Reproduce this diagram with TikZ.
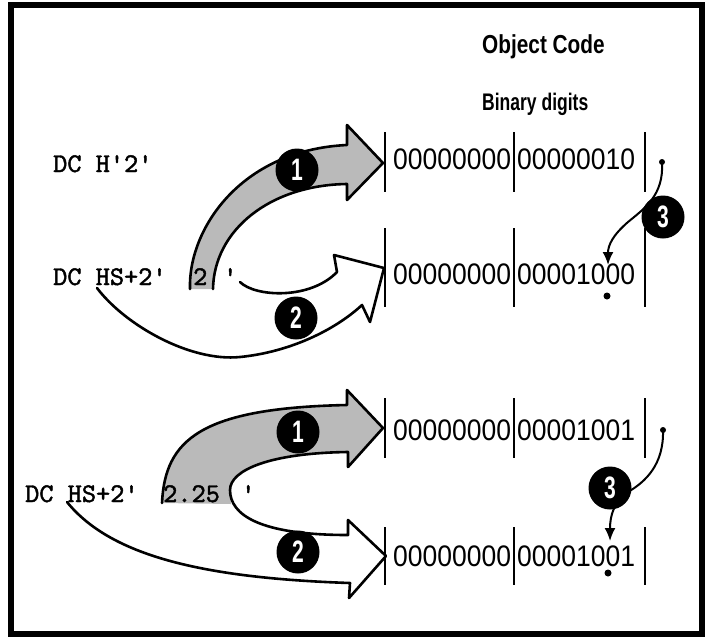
\documentclass[tikz,border=0pt]{standalone}
\usepackage{fontspec}
\usepackage{graphicx}
\newfontfamily\hfont{Liberation Sans}
\newfontfamily\codefont{lmmono10-regular.otf}[FakeBold=1.6]
\usetikzlibrary{arrows.meta}
\newcommand\aps{\char"27\relax}
\begin{document}
\begin{tikzpicture}[x=1pt,y=-1pt,
  bar/.style={line width=2.8pt},
  curve/.style={line width=2.6pt, line join=round, line cap=round},
  pointer/.style={line width=2pt, -{Latex[length=13pt,width=11pt]}},
  numcirc/.style={circle, fill=black, minimum size=43pt, inner sep=0pt, text=white, font=\hfont\bfseries\fontsize{31}{31}\selectfont},
  bits/.style={anchor=west, inner sep=0pt, font=\hfont\fontsize{26.5}{26.5}\selectfont},
  code/.style={anchor=base west, inner sep=0pt, font=\codefont\fontsize{27}{27}\selectfont},
  shade/.style={fill=black!27},
  dotmark/.style={circle, fill=black, inner sep=0pt, minimum size=6pt}
]
\useasboundingbox (0,0) rectangle (708,638);
\draw[line width=6.5pt] (11,5) rectangle (702,634);

% headings
\node[anchor=base west, inner sep=0pt, font=\hfont\bfseries\fontsize{26}{26}\selectfont] (oc) at (482,53) {\scalebox{0.8}[1]{Object Code}};
\node[anchor=base west, inner sep=0pt, font=\hfont\bfseries\fontsize{24}{24}\selectfont] (bd) at (482,110) {\scalebox{0.73}[1]{Binary digits}};

% shaded arrow bodies
\fill[shade] (190,289) .. controls (188,230) and (240,150) .. (347,145) -- (347,125) -- (383,163) -- (347,200) -- (347,184) .. controls (270,185) and (214,230) .. (213,289) -- cycle;
\fill[shade] (162,503) .. controls (165,440) and (200,408) .. (347,405) -- (347,390) -- (383,428) -- (348,467) -- (348,452) .. controls (270,453) and (230,470) .. (230,490) -- (231,504) -- cycle;

% source code lines
\node[code] (s1) at (53,172) {DC H\aps2\aps};
\node[code] (s2) at (53,285) {DC HS+2\aps};
\node[code] (s2v) at (193,285) {2};
\node[code] (s2q) at (223,285) {\aps};
\node[code] (s3) at (25,502) {DC HS+2\aps};
\node[code] (s3v) at (163,502) {2.25};
\node[code] (s3q) at (241,502) {\aps};

% binary rows
\node[bits] (r1a) at (393,159.5) {\scalebox{1}[1.12]{00000000}};
\node[bits] (r1b) at (517,159.5) {\scalebox{1}[1.12]{00000010}};
\node[bits] (r2a) at (393,274.5) {\scalebox{1}[1.12]{00000000}};
\node[bits] (r2b) at (517,274.5) {\scalebox{1}[1.12]{00001000}};
\node[bits] (r3a) at (393,430) {\scalebox{1}[1.12]{00000000}};
\node[bits] (r3b) at (517,430) {\scalebox{1}[1.12]{00001001}};
\node[bits] (r4a) at (393,556.5) {\scalebox{1}[1.12]{00000000}};
\node[bits] (r4b) at (517,556.5) {\scalebox{1}[1.12]{00001001}};

\foreach \x in {385,514,645}{
  \draw[bar] (\x,132) -- (\x,192);
  \draw[bar] (\x,228) -- (\x,307);
  \draw[bar] (\x,398) -- (\x,458);
  \draw[bar] (\x,527) -- (\x,585);
}

% top arrows
\draw[curve] (190,289) .. controls (188,230) and (240,150) .. (347,145) -- (347,125) -- (383,163) -- (347,200) -- (347,184) .. controls (270,185) and (214,230) .. (213,289);
\draw[curve] (240,282) .. controls (255,297) and (310,300) .. (337,272) -- (334,255) -- (384,268) -- (370,322) -- (362,305) .. controls (335,330) and (290,352) .. (240,357) .. controls (190,362) and (125,325) .. (97,288);

% bottom arrows
\draw[curve] (162,503) .. controls (165,440) and (200,408) .. (347,405) -- (347,390) -- (383,428) -- (348,467) -- (348,452) .. controls (270,453) and (230,470) .. (230,490) .. controls (230,515) and (260,535) .. (348,535) -- (348,520) -- (386,556) -- (349,598) -- (350,583) .. controls (200,578) and (110,555) .. (67,502);

% rounding pointers
\node[dotmark] (d1) at (662,162) {};
\node[dotmark, minimum size=7pt] (p2) at (607,296) {};
\draw[pointer] (d1.center) .. controls (664,195) and (645,208) .. (628,222) .. controls (613,235) and (608,245) .. (608,265);
\node[dotmark] (d3) at (663,430) {};
\node[dotmark, minimum size=7pt] (p4) at (608,573) {};
\draw[pointer] (d3.center) .. controls (664,465) and (645,482) .. (628,492) .. controls (614,502) and (610,515) .. (610,541);

% numbered circles
\node[numcirc] (c1a) at (297,170) {\scalebox{0.68}[1]{1}};
\node[numcirc] (c2a) at (296,318) {\scalebox{0.68}[1]{2}};
\node[numcirc] (c3a) at (663,217) {\scalebox{0.68}[1]{3}};
\node[numcirc] (c1b) at (298,432) {\scalebox{0.68}[1]{1}};
\node[numcirc] (c2b) at (298,552) {\scalebox{0.68}[1]{2}};
\node[numcirc] (c3b) at (610,488) {\scalebox{0.68}[1]{3}};
\end{tikzpicture}
\end{document}
